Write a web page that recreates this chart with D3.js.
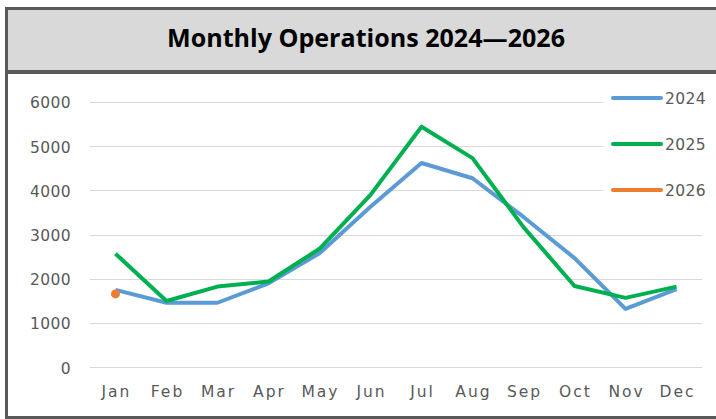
<!DOCTYPE html>
<html><head><meta charset="utf-8">
<script src="https://cdn.jsdelivr.net/npm/d3@7"></script>
<style>body{margin:0;background:#fff;}svg{display:block;}</style>
</head><body>
<script>
const months = ["Jan","Feb","Mar","Apr","May","Jun","Jul","Aug","Sep","Oct","Nov","Dec"];
const s2024 = [1750,1460,1460,1900,2580,3630,4620,4275,3400,2470,1320,1770];
const s2025 = [2570,1500,1825,1940,2680,3900,5440,4730,3170,1840,1570,1825];
const s2026 = [1660];
const yTicks = [0,1000,2000,3000,4000,5000,6000];
const seriesNames = ["2024","2025","2026"];
const colors = ["#5B9BD5","#00B050","#ED7D31"];

const W = 716, H = 419;
const svg = d3.select("body").append("svg").attr("width", W).attr("height", H);

// title box
svg.append("rect").attr("x", 6.5).attr("y", 8.5).attr("width", 716).attr("height", 63)
  .attr("fill", "#d9d9d9").attr("stroke", "#595959").attr("stroke-width", 3);
// outer chart border
svg.append("rect").attr("x", 6.5).attr("y", 71.5).attr("width", 716).attr("height", 346)
  .attr("fill", "#fff").attr("stroke", "#595959").attr("stroke-width", 3);
svg.append("line").attr("x1", 5).attr("x2", 716).attr("y1", 72).attr("y2", 72)
  .attr("stroke", "#595959").attr("stroke-width", 4);

svg.append("text").attr("x", 167).attr("y", 46.7).attr("text-anchor", "start")
  .attr("font-family", "'Open Sans', Lato, sans-serif").attr("font-weight", "bold")
  .attr("font-size", 25).attr("fill", "#000")
  .attr("textLength", 398).attr("lengthAdjust", "spacingAndGlyphs")
  .text("Monthly Operations 2024\u20142026");

const x = d3.scaleBand().domain(months).range([90, 702]);
const y = d3.scaleLinear().domain([0, 6000]).range([367.3, 102]);

// gridlines
const grid = svg.append("g");
grid.selectAll("line").data(yTicks).join("line")
  .attr("x1", 90).attr("x2", 702)
  .attr("y1", d => Math.round(y(d)) + 0.5).attr("y2", d => Math.round(y(d)) + 0.5)
  .attr("stroke", "#d9d9d9").attr("stroke-width", 1);

const labelFont = "'DejaVu Sans', Verdana, sans-serif";

// y axis labels
const yAxis = svg.append("g").attr("transform", "translate(71,0)")
  .call(d3.axisLeft(y).tickValues(yTicks).tickSize(0).tickPadding(0).tickFormat(d3.format("d")));
yAxis.select(".domain").remove();
yAxis.selectAll("text").attr("font-family", labelFont).attr("font-size", 15.5)
  .attr("letter-spacing", 0.4).attr("fill", "#595959").attr("dy", "0.38em");

// x axis labels
const xAxis = svg.append("g").attr("transform", "translate(0,397)")
  .call(d3.axisBottom(x).tickSize(0).tickPadding(0));
xAxis.select(".domain").remove();
xAxis.selectAll("text").attr("font-family", labelFont).attr("font-size", 15.5)
  .attr("letter-spacing", 2).attr("fill", "#595959").attr("dy", 0)
  .attr("dx", 1);

const line = d3.line().x((d, i) => x(months[i]) + x.bandwidth() / 2).y(d => y(d));

// legend background (covers gridlines)
svg.append("rect").attr("x", 603).attr("y", 82).attr("width", 111).attr("height", 122).attr("fill", "#fff");

[s2024, s2025].forEach((s, k) => {
  svg.append("path").datum(s).attr("d", line).attr("fill", "none")
    .attr("stroke", colors[k]).attr("stroke-width", 4).attr("stroke-linejoin", "round");
});
svg.selectAll(".p26").data(s2026).join("circle")
  .attr("cx", (d, i) => x(months[i]) + x.bandwidth() / 2).attr("cy", d => y(d))
  .attr("r", 4.5).attr("fill", colors[2]);

// legend
const legY = [98, 144, 190];
seriesNames.forEach((n, k) => {
  svg.append("line").attr("x1", 613).attr("x2", 661).attr("y1", legY[k]).attr("y2", legY[k])
    .attr("stroke", colors[k]).attr("stroke-width", 4).attr("stroke-linecap", "round");
  svg.append("text").attr("x", 665).attr("y", legY[k] + 6)
    .attr("font-family", labelFont).attr("font-size", 15.5).attr("letter-spacing", 0.4)
    .attr("fill", "#595959").text(n);
});
</script>
</body></html>
